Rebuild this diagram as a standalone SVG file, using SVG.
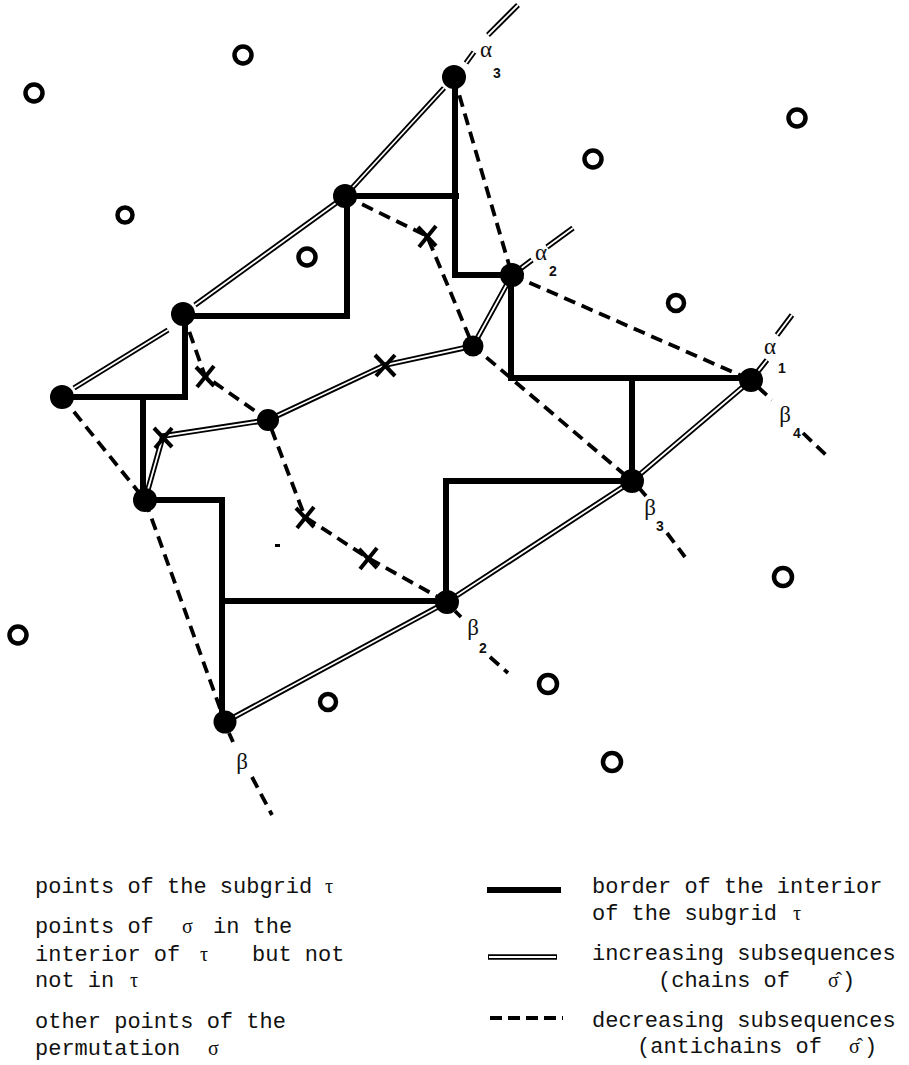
<svg xmlns="http://www.w3.org/2000/svg" xmlns:xlink="http://www.w3.org/1999/xlink" width="909" height="1065" viewBox="0 0 909 1065">
<style>
.border{fill:none;stroke:#000;stroke-width:6;stroke-linecap:square;stroke-linejoin:miter}
.dash{fill:none;stroke:#000;stroke-width:3.8;stroke-dasharray:12 7}
.dblo{fill:none;stroke:#000;stroke-width:5.5}
.dbli{fill:none;stroke:#fff;stroke-width:1.8}
.pt{fill:#000}
.open{fill:none;stroke:#000;stroke-width:4.5}
.cross{stroke:#000;stroke-width:4;stroke-linecap:butt}
.lbl{font-family:"Liberation Serif",serif;font-size:23px;fill:#111;text-anchor:middle}
.sub{font-family:"Liberation Sans",sans-serif;font-size:14px;font-weight:bold;fill:#111;text-anchor:middle}
.leg{font-family:"Liberation Mono",monospace;font-size:22px;fill:#111}
.gk{font-family:"Liberation Serif",serif;font-size:20px;fill:#111}
</style>
<defs>
<g id="incPaths">
<path d="M74,388 L168,330"/>
<path d="M195,305 L336,203"/>
<path d="M352,188 L444,88"/>
<path d="M466,63 L474,52"/>
<path d="M488,35 L518,5"/>
<path d="M145,500 L163,436 L268,420 L385,365 L473,346 L512,275 L532,260"/>
<path d="M547,247 L573,228"/>
<path d="M225,722 L447,602 L632,481 L751,380 L767,360"/>
<path d="M777,335 L792,315"/>
</g>
</defs>

<g id="connectors">
<g id="increasing">
<use xlink:href="#incPaths" class="dblo" stroke="#000" stroke-width="5.5" fill="none"/>
<use xlink:href="#incPaths" class="dbli" stroke="#fff" stroke-width="1.8" fill="none"/>
</g>
<g id="decreasing">
<path class="dash" d="M454,77 L512,275"/>
<path class="dash" d="M512,275 L751,380"/>
<path class="dash" d="M758,387 L772,400"/>
<path class="dash" d="M803,433 L828,457"/>
<path class="dash" d="M345,196 L427,236 L473,346 L632,481"/>
<path class="dash" d="M640,489 L646,496"/>
<path class="dash" d="M667,533 L685,557"/>
<path class="dash" d="M183,314 L205,376 L268,420 L305,517 L368,558 L447,602"/>
<path class="dash" d="M455,611 L461,617"/>
<path class="dash" d="M490,657 L508,673"/>
<path class="dash" d="M62,397 L145,500 L225,722"/>
<path class="dash" d="M229,733 L233,742"/>
<path class="dash" d="M252,777 L272,815"/>
</g>
<g id="border">
<path class="border" d="M62,397 H185 V314"/>
<path class="border" d="M183,316 H347 V196"/>
<path class="border" d="M345,196 H456"/>
<path class="border" d="M455,77 V275 H512"/>
<path class="border" d="M511,275 V378 H751"/>
<path class="border" d="M632,378 V481"/>
<path class="border" d="M632,481 H446 V602"/>
<path class="border" d="M447,601 H222"/>
<path class="border" d="M145,500 H222 V722"/>
<path class="border" d="M143,397 V500"/>
</g>
</g>

<g id="subgrid-points">
<circle id="p1" class="pt" cx="62" cy="397" r="12"/>
<circle id="p2" class="pt" cx="183" cy="314" r="12"/>
<circle id="p3" class="pt" cx="345" cy="196" r="12"/>
<circle id="p4" class="pt" cx="454" cy="77" r="12"/>
<circle id="p5" class="pt" cx="512" cy="275" r="12"/>
<circle id="p6" class="pt" cx="751" cy="380" r="12"/>
<circle id="p7" class="pt" cx="632" cy="481" r="12"/>
<circle id="p8" class="pt" cx="447" cy="602" r="12"/>
<circle id="p9" class="pt" cx="225" cy="722" r="11.5"/>
<circle id="p10" class="pt" cx="145" cy="500" r="12"/>
<circle id="p11" class="pt" cx="268" cy="420" r="11"/>
<circle id="p12" class="pt" cx="473" cy="346" r="10.5"/>
</g>

<g id="interior-points">
<g id="x1" class="cross"><line x1="196" y1="367" x2="214" y2="386"/><line x1="214" y1="366" x2="197" y2="387"/></g>
<g id="x2" class="cross"><line x1="154" y1="428" x2="172" y2="447"/><line x1="172" y1="428" x2="155" y2="448"/></g>
<g id="x3" class="cross"><line x1="418" y1="227" x2="436" y2="246"/><line x1="436" y1="226" x2="419" y2="247"/></g>
<g id="x4" class="cross"><line x1="375" y1="355" x2="395" y2="376"/><line x1="395" y1="355" x2="376" y2="376"/></g>
<g id="x5" class="cross"><line x1="296" y1="508" x2="314" y2="527"/><line x1="314" y1="507" x2="297" y2="528"/></g>
<g id="x6" class="cross"><line x1="359" y1="549" x2="377" y2="568"/><line x1="377" y1="548" x2="360" y2="569"/></g>
</g>

<g id="other-points">
<circle class="open" cx="243" cy="55" r="8.5"/>
<circle class="open" cx="34" cy="93" r="8.5"/>
<circle class="open" cx="125" cy="215" r="7.5"/>
<circle class="open" cx="307" cy="257" r="8.5"/>
<circle class="open" cx="593" cy="159" r="8.5"/>
<circle class="open" cx="797" cy="118" r="8.5"/>
<circle class="open" cx="676" cy="303" r="8"/>
<circle class="open" cx="783" cy="577" r="9"/>
<circle class="open" cx="18" cy="635" r="8.5"/>
<circle class="open" cx="548" cy="684" r="9"/>
<circle class="open" cx="328" cy="702" r="8"/>
<circle class="open" cx="612" cy="762" r="9"/>
<rect x="275" y="544" width="5" height="3" fill="#000"/>
</g>

<g id="labels">
<text class="lbl" x="486" y="57">α</text><text class="sub" x="497" y="78">3</text>
<text class="lbl" x="541" y="260">α</text><text class="sub" x="553" y="276">2</text>
<text class="lbl" x="770" y="354">α</text><text class="sub" x="782" y="373">1</text>
<text class="lbl" x="785" y="422">β</text><text class="sub" x="797" y="438">4</text>
<text class="lbl" x="650" y="515">β</text><text class="sub" x="660" y="531">3</text>
<text class="lbl" x="473" y="635">β</text><text class="sub" x="483" y="653">2</text>
<text class="lbl" x="242" y="769">β</text>
</g>

<g id="legend">
<text class="leg" x="35" y="893">points of the subgrid</text><text class="gk" x="325" y="893">τ</text>
<text class="leg" x="35" y="933">points of</text><text class="gk" x="182" y="933">σ</text><text class="leg" x="213" y="933">in the</text>
<text class="leg" x="35" y="961">interior of</text><text class="gk" x="200" y="961">τ</text><text class="leg" x="252" y="961">but not</text>
<text class="leg" x="35" y="987">not in</text><text class="gk" x="130" y="987">τ</text>
<text class="leg" x="35" y="1028">other points of the</text>
<text class="leg" x="35" y="1055">permutation</text><text class="gk" x="208" y="1055">σ</text>

<path class="border" d="M490,890 H558" stroke-linecap="round"/>
<text class="leg" x="592" y="893">border of the interior</text>
<text class="leg" x="592" y="920">of the subgrid</text><text class="gk" x="793" y="920">τ</text>

<path class="dblo" d="M488,957 H557"/>
<path class="dbli" d="M489,957 H556"/>
<text class="leg" x="592" y="960">increasing subsequences</text>
<text class="leg" x="658" y="987">(chains of</text><text class="gk" x="828" y="987">σ̂</text><text class="leg" x="842" y="987">)</text>

<path class="dash" d="M490,1018 H563" style="stroke-dasharray:12 6"/>
<text class="leg" x="592" y="1027">decreasing subsequences</text>
<text class="leg" x="637" y="1053">(antichains of</text><text class="gk" x="849" y="1053">σ̂</text><text class="leg" x="864" y="1053">)</text>
</g>
</svg>
